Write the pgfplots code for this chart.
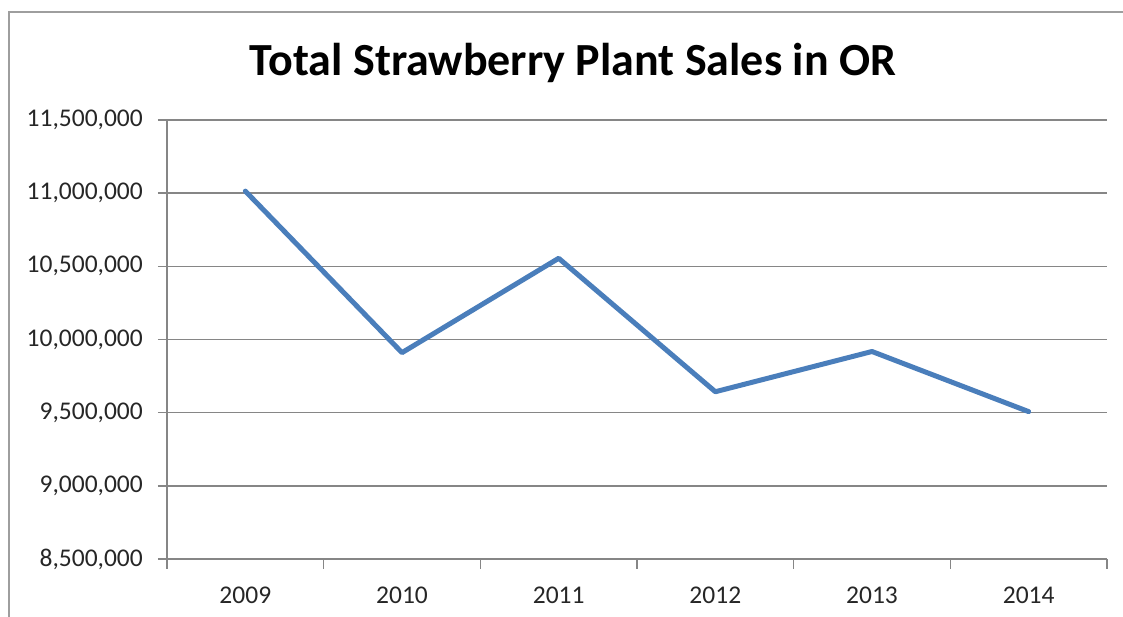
\documentclass[border=0pt]{standalone}
\usepackage{pgfplots}
\pgfplotsset{compat=1.18}
\usepackage{fontspec}
\setmainfont{Carlito}
\definecolor{lineblue}{RGB}{74,126,187}
\definecolor{gridgray}{RGB}{134,134,134}
\definecolor{labelc}{RGB}{38,38,38}
\begin{document}
\begin{tikzpicture}
\begin{axis}[
  name=ax,
  scale only axis, width=940pt, height=439pt,
  xmin=-0.5, xmax=5.5,
  ymin=8500000, ymax=11500000,
  ytick={8500000,9000000,...,11500000},
  xtick={0,...,5},
  xticklabels={2009,2010,2011,2012,2013,2014},
  minor xtick={-0.5,0.5,...,5.5},
  x tick style={draw=none},
  minor x tick style={draw=gridgray, line width=1.5pt},
  minor tick length=10pt,
  y tick style={draw=gridgray, line width=1.5pt},
  major tick length=9pt,
  tick align=outside,
  axis x line*=bottom, axis y line*=left,
  axis line style={draw=gridgray, line width=1.5pt, -},
  ymajorgrids,
  major grid style={draw=gridgray, line width=1.5pt},
  scaled y ticks=false,
  /pgf/number format/.cd, fixed, 1000 sep={,}, assume math mode=true,
  /pgfplots/.cd,
  ticklabel style={font=\fontsize{25.5}{30}\selectfont, text=labelc},
  yticklabel style={inner sep=0pt, xshift=-15pt},
  xticklabel style={inner sep=0pt, yshift=-19pt},
  clip=false,
]
\addplot[lineblue, line width=5pt, line join=round, line cap=round] coordinates {
  (0,11014000) (1,9910000) (2,10555000) (3,9643000) (4,9918000) (5,9507000)
};
\end{axis}
\begin{scope}[shift={(ax.south west)}]
\draw[gridgray!80, line width=1.5pt] (-158pt,-80pt) -- (-158pt,547pt) -- (990pt,547pt);
\node[font=\fontsize{46}{52}\selectfont\bfseries, text=black] at (406pt,496pt) {Total Strawberry Plant Sales in OR};
\pgfresetboundingbox
\path[use as bounding box] (-167pt,-58pt) rectangle (956pt,559pt);
\end{scope}
\end{tikzpicture}
\end{document}
